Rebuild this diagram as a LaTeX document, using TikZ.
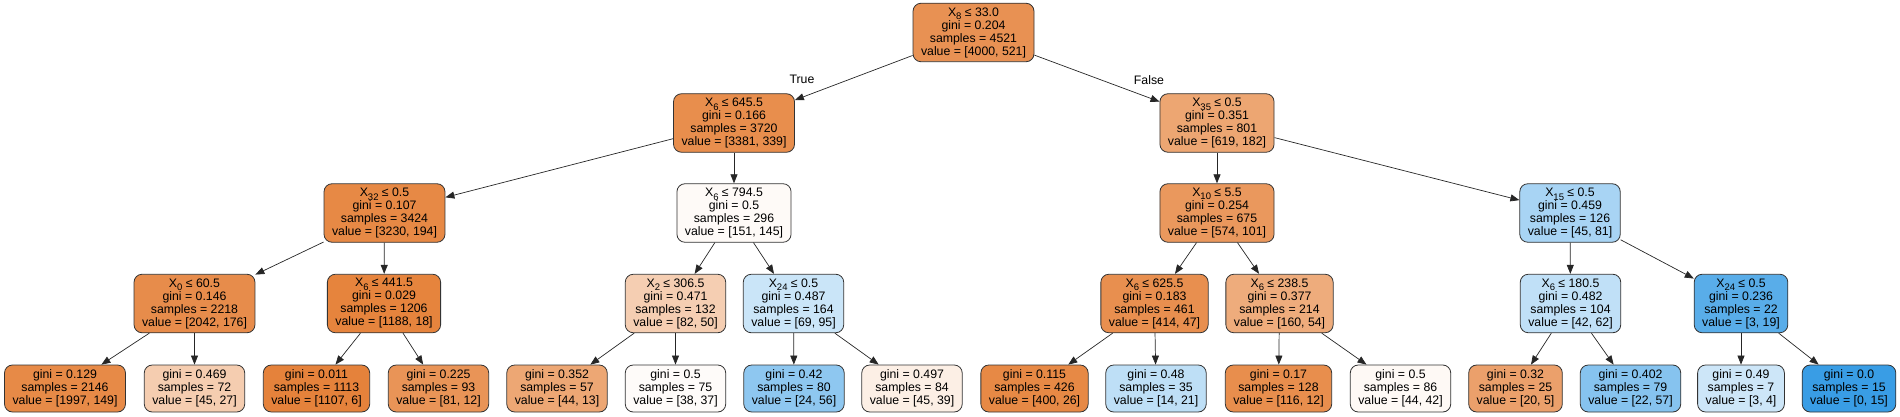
\documentclass[tikz,border=0pt]{standalone}
\usepackage{fontspec}
\setmainfont{Liberation Sans}
\usetikzlibrary{arrows.meta}
\definecolor{org}{RGB}{229,129,57}
\definecolor{blu}{RGB}{57,157,229}
\newcommand\sbx[1]{\raisebox{-3.5pt}{\fontsize{9.5}{9.5}\selectfont #1}}
\tikzset{
  base/.style={draw=black!80, line width=0.8pt, rounded corners=8pt, align=center,
    font=\fontsize{12.3}{13}\selectfont, inner xsep=8pt, inner ysep=0pt},
  split/.style={base, minimum height=58.5pt},
  leaf/.style={base, minimum height=47pt},
  edge/.style={draw=black!85, line width=0.7pt, -{Triangle[length=9pt,width=7pt]}},
  elab/.style={font=\fontsize{12.3}{13}\selectfont, inner sep=0pt}
}
\begin{document}
\begin{tikzpicture}[x=1pt,y=-1pt]
\useasboundingbox (0,0) rectangle (1900,417);
% level 0
\node[split, fill=org!87!white] (r) at (973.5,32.5) {X\sbx{8} ≤ 33.0\\gini = 0.204\\samples = 4521\\value = [4000, 521]};
% level 1
\node[split, fill=org!90!white] (n1) at (734,123) {X\sbx{6} ≤ 645.5\\gini = 0.166\\samples = 3720\\value = [3381, 339]};
\node[split, fill=org!71!white] (n2) at (1217,123) {X\sbx{35} ≤ 0.5\\gini = 0.351\\samples = 801\\value = [619, 182]};
% level 2
\node[split, fill=org!94!white] (n3) at (384.5,213) {X\sbx{32} ≤ 0.5\\gini = 0.107\\samples = 3424\\value = [3230, 194]};
\node[split, fill=org!4!white] (n4) at (734,213) {X\sbx{6} ≤ 794.5\\gini = 0.5\\samples = 296\\value = [151, 145]};
\node[split, fill=org!82!white] (n5) at (1217,213) {X\sbx{10} ≤ 5.5\\gini = 0.254\\samples = 675\\value = [574, 101]};
\node[split, fill=blu!44!white] (n6) at (1570,213) {X\sbx{15} ≤ 0.5\\gini = 0.459\\samples = 126\\value = [45, 81]};
% level 3
\node[split, fill=org!91!white] (n7) at (194.5,303.5) {X\sbx{0} ≤ 60.5\\gini = 0.146\\samples = 2218\\value = [2042, 176]};
\node[split, fill=org!98!white] (n8) at (384,303.5) {X\sbx{6} ≤ 441.5\\gini = 0.029\\samples = 1206\\value = [1188, 18]};
\node[split, fill=org!39!white] (n9) at (675.5,303.5) {X\sbx{2} ≤ 306.5\\gini = 0.471\\samples = 132\\value = [82, 50]};
\node[split, fill=blu!27!white] (n10) at (793.5,303.5) {X\sbx{24} ≤ 0.5\\gini = 0.487\\samples = 164\\value = [69, 95]};
\node[split, fill=org!89!white] (n11) at (1154.5,303.5) {X\sbx{6} ≤ 625.5\\gini = 0.183\\samples = 461\\value = [414, 47]};
\node[split, fill=org!66!white] (n12) at (1279.5,303.5) {X\sbx{6} ≤ 238.5\\gini = 0.377\\samples = 214\\value = [160, 54]};
\node[split, fill=blu!32!white] (n13) at (1570.5,303.5) {X\sbx{6} ≤ 180.5\\gini = 0.482\\samples = 104\\value = [42, 62]};
\node[split, fill=blu!84!white] (n14) at (1741,303.5) {X\sbx{24} ≤ 0.5\\gini = 0.236\\samples = 22\\value = [3, 19]};
% leaves
\node[leaf, fill=org!93!white] (l1) at (65,388.5) {gini = 0.129\\samples = 2146\\value = [1997, 149]};
\node[leaf, fill=org!40!white] (l2) at (194.5,388.5) {gini = 0.469\\samples = 72\\value = [45, 27]};
\node[leaf, fill=org!99!white] (l3) at (316.5,388.5) {gini = 0.011\\samples = 1113\\value = [1107, 6]};
\node[leaf, fill=org!85!white] (l4) at (438.5,388.5) {gini = 0.225\\samples = 93\\value = [81, 12]};
\node[leaf, fill=org!70!white] (l5) at (557,388.5) {gini = 0.352\\samples = 57\\value = [44, 13]};
\node[leaf, fill=org!3!white] (l6) at (675.5,388.5) {gini = 0.5\\samples = 75\\value = [38, 37]};
\node[leaf, fill=blu!57!white] (l7) at (794,388.5) {gini = 0.42\\samples = 80\\value = [24, 56]};
\node[leaf, fill=org!13!white] (l8) at (912,388.5) {gini = 0.497\\samples = 84\\value = [45, 39]};
\node[leaf, fill=org!94!white] (l9) at (1034.5,388.5) {gini = 0.115\\samples = 426\\value = [400, 26]};
\node[leaf, fill=blu!33!white] (l10) at (1156,388.5) {gini = 0.48\\samples = 35\\value = [14, 21]};
\node[leaf, fill=org!90!white] (l11) at (1278.5,388.5) {gini = 0.17\\samples = 128\\value = [116, 12]};
\node[leaf, fill=org!5!white] (l12) at (1400.5,388.5) {gini = 0.5\\samples = 86\\value = [44, 42]};
\node[leaf, fill=org!75!white] (l13) at (1515.5,388.5) {gini = 0.32\\samples = 25\\value = [20, 5]};
\node[leaf, fill=blu!61!white] (l14) at (1630.5,388.5) {gini = 0.402\\samples = 79\\value = [22, 57]};
\node[leaf, fill=blu!25!white] (l15) at (1741,388.5) {gini = 0.49\\samples = 7\\value = [3, 4]};
\node[leaf, fill=blu!100!white] (l16) at (1849,388.5) {gini = 0.0\\samples = 15\\value = [0, 15]};
% edge labels
\node[elab] (tl) at (802,79) {True};
\node[elab] (fl) at (1149,80) {False};
% edges
\draw[edge] (r) -- (n1);
\draw[edge] (r) -- (n2);
\draw[edge] (n1) -- (n3);
\draw[edge] (n1) -- (n4);
\draw[edge] (n2) -- (n5);
\draw[edge] (n2) -- (n6);
\draw[edge] (n3) -- (n7);
\draw[edge] (n3) -- (n8);
\draw[edge] (n4) -- (n9);
\draw[edge] (n4) -- (n10);
\draw[edge] (n5) -- (n11);
\draw[edge] (n5) -- (n12);
\draw[edge] (n6) -- (n13);
\draw[edge] (n6) -- (n14);
\draw[edge] (n7) -- (l1);
\draw[edge] (n7) -- (l2);
\draw[edge] (n8) -- (l3);
\draw[edge] (n8) -- (l4);
\draw[edge] (n9) -- (l5);
\draw[edge] (n9) -- (l6);
\draw[edge] (n10) -- (l7);
\draw[edge] (n10) -- (l8);
\draw[edge] (n11) -- (l9);
\draw[edge] (n11) -- (l10);
\draw[edge] (n12) -- (l11);
\draw[edge] (n12) -- (l12);
\draw[edge] (n13) -- (l13);
\draw[edge] (n13) -- (l14);
\draw[edge] (n14) -- (l15);
\draw[edge] (n14) -- (l16);
\end{tikzpicture}
\end{document}
